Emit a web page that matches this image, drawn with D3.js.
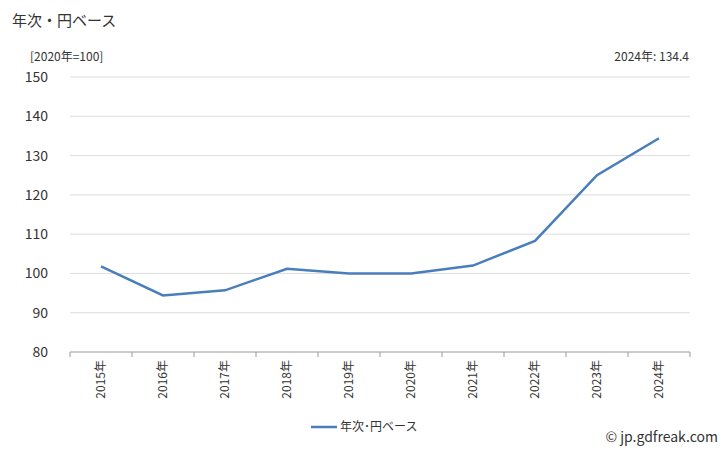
<!DOCTYPE html>
<html><head><meta charset="utf-8">
<script src="https://cdn.jsdelivr.net/npm/d3@7"></script>
<style>body{margin:0;background:#fff;font-family:"Noto Sans CJK JP","Noto Sans",sans-serif;}</style>
</head><body>
<svg id="c" width="728" height="450"></svg>
<script>
const years=["2015年","2016年","2017年","2018年","2019年","2020年","2021年","2022年","2023年","2024年"];
const values=[101.8,94.4,95.7,101.2,100,100,102,108.3,125,134.4];
const yTicks=[80,90,100,110,120,130,140,150];
const svg=d3.select("#c");
const L=70,R=690,T=77,B=352;
const x=d3.scaleBand().domain(years).range([L,R]);
const y=d3.scaleLinear().domain([80,150]).range([B,T]);
const f="Noto Sans CJK JP";
svg.append("g").selectAll("line").data(yTicks).join("line")
 .attr("x1",L).attr("x2",R).attr("y1",d=>y(d)).attr("y2",d=>y(d))
 .attr("stroke",d=>d===80?"#999":"#ddd");
svg.append("g").selectAll("text").data(yTicks).join("text")
 .attr("x",L-22).attr("y",d=>y(d)+5).attr("text-anchor","end")
 .attr("font-size",14).attr("fill","#333").attr("font-family",f).text(d=>d);
svg.append("g").selectAll("line").data(years.concat([""])).join("line")
 .attr("x1",(d,i)=>L+i*x.step()).attr("x2",(d,i)=>L+i*x.step())
 .attr("y1",B).attr("y2",B+5).attr("stroke","#999");
svg.append("g").selectAll("text").data(years).join("text")
 .attr("transform",d=>`translate(${x(d)+x.bandwidth()/2+4},${B+8}) rotate(-90)`)
 .attr("text-anchor","end").attr("font-size",12).attr("fill","#333").attr("font-family",f).text(d=>d);
svg.append("path").datum(values)
 .attr("d",d3.line().x((d,i)=>x(years[i])+x.bandwidth()/2).y(d=>y(d)))
 .attr("fill","none").attr("stroke","#4a7ebb").attr("stroke-width",2.5);
svg.append("text").attr("x",12).attr("y",26).attr("font-size",15).attr("fill","#333").attr("font-family",f).text("年次・円ベース");
svg.append("text").attr("x",30).attr("y",61).attr("font-size",12).attr("fill","#333").attr("font-family",f).text("[2020年=100]");
svg.append("text").attr("x",689).attr("y",61).attr("text-anchor","end").attr("font-size",12).attr("fill","#333").attr("font-family",f).text("2024年: 134.4");
svg.append("line").attr("x1",311).attr("x2",337).attr("y1",427).attr("y2",427).attr("stroke","#4a7ebb").attr("stroke-width",2.5);
svg.append("text").attr("x",340).attr("y",431).attr("font-size",12).attr("fill","#333").attr("font-family",f).text("年次･円ベース");
svg.append("text").attr("x",718).attr("y",442).attr("text-anchor","end").attr("font-size",14).attr("fill","#333").attr("font-family",f).text("© jp.gdfreak.com");
</script></body></html>
